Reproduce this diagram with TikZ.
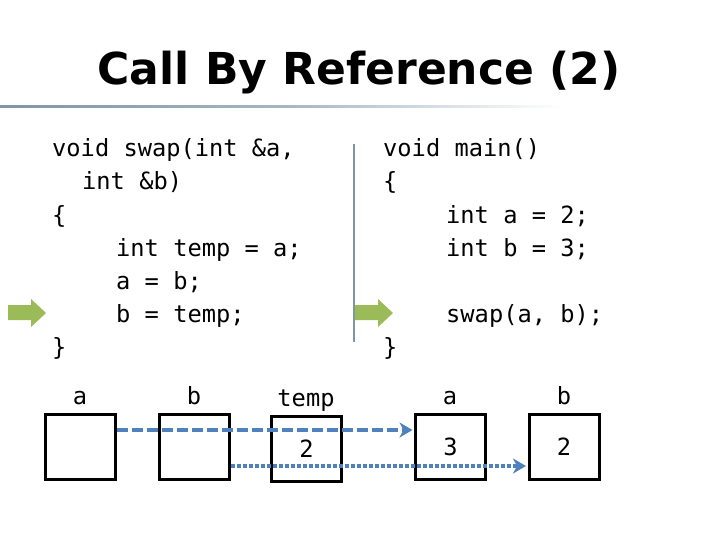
\documentclass[tikz,border=0pt]{standalone}
\usepackage{fontspec}
\setmainfont{Carlito}
\newfontfamily\codefont{DejaVu Sans Mono}
\newfontfamily\titlefont{DejaVu Sans}
\usetikzlibrary{arrows.meta}
\definecolor{rulecol}{HTML}{7F95A8}
\definecolor{greenarr}{HTML}{9BBB59}
\definecolor{linkcol}{HTML}{4F81BD}
\tikzset{
  code/.style={anchor=base west, inner sep=0pt, font=\codefont\fontsize{23.7}{28}\selectfont},
  lbl/.style={anchor=base, inner sep=0pt, font=\codefont\fontsize{23.7}{28}\selectfont},
  cell/.style={draw=black, line width=3pt, minimum width=70pt, minimum height=65pt, inner sep=0pt, font=\codefont\fontsize{23.7}{28}\selectfont},
  dashlink/.style={linkcol, line width=4pt, dash pattern=on 11pt off 4pt, -{Stealth[length=13pt,width=15pt,inset=4pt]}},
  dotlink/.style={linkcol, line width=4pt, dash pattern=on 3.5pt off 2.5pt, -{Stealth[length=13pt,width=15pt,inset=4pt]}},
  greenarrow/.style={fill=greenarr, draw=none}
}
\begin{document}
\begin{tikzpicture}[x=1pt,y=-1pt]
\useasboundingbox (0,0) rectangle (720,540);
\fill[white] (0,0) rectangle (720,540);
% title
\node[anchor=base, inner sep=0pt, font=\titlefont\bfseries\fontsize{44}{50}\selectfont] (title) at (359,85) {Call By Reference (2)};
\shade[left color=rulecol, right color=white, middle color=rulecol!70] (0,106) rectangle (565,108);
% left code
\node[code] (l1) at (52,157) {void swap(int \&a,};
\node[code] (l2) at (82,190) {int \&b)};
\node[code] (l3) at (52,223) {\{};
\node[code] (l4) at (116,256) {int temp = a;};
\node[code] (l5) at (116,289) {a = b;};
\node[code] (l6) at (116,322) {b = temp;};
\node[code] (l7) at (52,355) {\}};
% divider
\draw[rulecol, line width=1.2pt] (354,144) -- (354,342);
% right code
\node[code] (r1) at (383,157) {void main()};
\node[code] (r2) at (383,190) {\{};
\node[code] (r3) at (446,223) {int a = 2;};
\node[code] (r4) at (446,256) {int b = 3;};
\node[code] (r5) at (446,322) {swap(a, b);};
\node[code] (r6) at (383,355) {\}};
% green arrows
\fill[greenarrow] (8,305) -- (31,305) -- (31,299) -- (46,313) -- (31,327) -- (31,320) -- (8,320) -- cycle;
\fill[greenarrow] (355,305) -- (378,305) -- (378,299) -- (393,313) -- (378,327) -- (378,320) -- (355,320) -- cycle;
% labels
\node[lbl] (la) at (80,404) {a};
\node[lbl] (lb) at (194,404) {b};
\node[lbl] (lt) at (306,406) {temp};
\node[lbl] (ra) at (450,404) {a};
\node[lbl] (rb) at (564,404) {b};
% cells
\node[cell] (ca) at (80.5,447) {};
\node[cell] (cb) at (194.5,447) {};
\node[cell] (ct) at (306.5,449) {2};
\node[cell] (cra) at (450.5,446.5) {3};
\node[cell] (crb) at (564,446.5) {2};
% connectors
\coordinate (ya) at (0,430);
\coordinate (yb) at (0,466);
\draw[dashlink] (ca.east |- ya) -- ([xshift=-1.5pt]cra.west |- ya);
\draw[dotlink] (cb.east |- yb) -- ([xshift=-1.5pt]crb.west |- yb);
\end{tikzpicture}
\end{document}
